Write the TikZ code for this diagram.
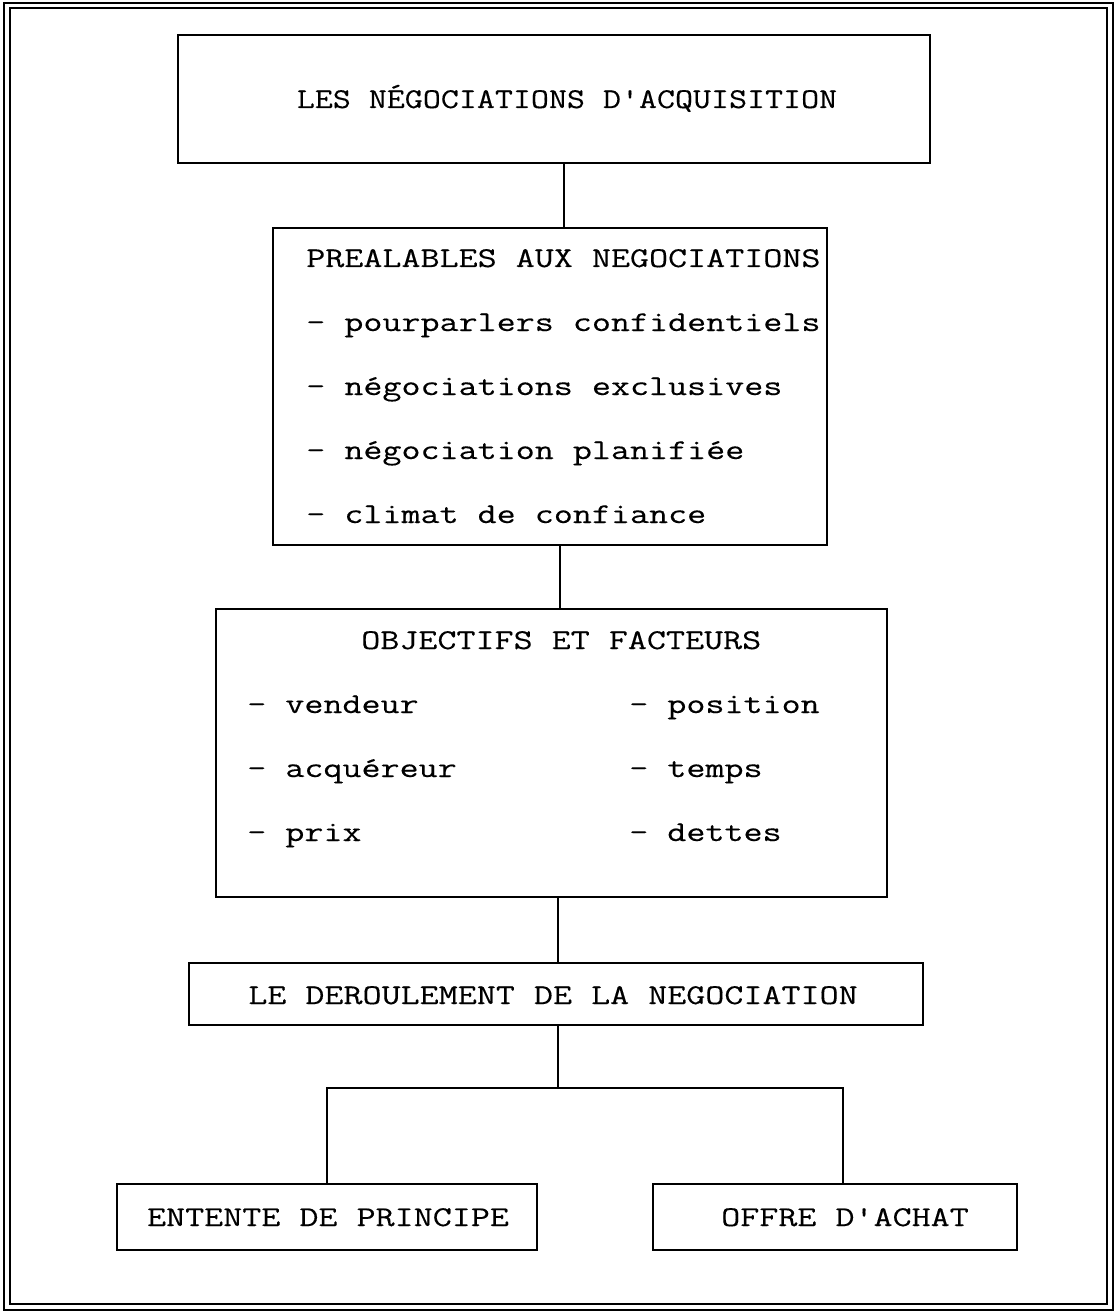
\documentclass[tikz,border=0pt]{standalone}
\usepackage{fontspec}
\newfontfamily\tw[FakeStretch=1.29,FakeBold=0.3]{Latin Modern Mono}
\newfontfamily\twt[FakeStretch=1.22,FakeBold=0.3]{Latin Modern Mono}
\tikzset{
  box/.style={draw, line width=1.5pt, rectangle, inner sep=0pt},
  conn/.style={line width=1.5pt},
  frameline/.style={line width=1.6pt},
  txt/.style={inner sep=0pt, font=\tw\fontsize{21.5}{26}\selectfont},
  titletxt/.style={inner sep=0pt, font=\twt\fontsize{21.5}{26}\selectfont},
}
\begin{document}
\begin{tikzpicture}[x=0.75pt,y=-0.75pt]
\useasboundingbox (0,0) rectangle (1116,1312);
% double frame
\draw[frameline] (4,3) rectangle (1113,1310);
\draw[frameline] (10,8) rectangle (1107,1304);

% boxes
\node[box, minimum width=752*0.75pt, minimum height=128*0.75pt] (b1) at (554,99) {};
\node[box, minimum width=554*0.75pt, minimum height=317*0.75pt] (b2) at (550,386.5) {};
\node[box, minimum width=671*0.75pt, minimum height=288*0.75pt] (b3) at (551.5,753) {};
\node[box, minimum width=734*0.75pt, minimum height=62*0.75pt] (b4) at (556,994) {};
\node[box, minimum width=420*0.75pt, minimum height=66*0.75pt] (b5) at (327,1217) {};
\node[box, minimum width=364*0.75pt, minimum height=66*0.75pt] (b6) at (835,1217) {};

% texts
\node[titletxt, anchor=base] (t1) at (567,108) {LES NÉGOCIATIONS D'ACQUISITION};

\node[txt, anchor=base west] (t2a) at (306,267) {PREALABLES AUX NEGOCIATIONS};
\node[txt, anchor=base west] (t2b) at (306,331) {- pourparlers confidentiels};
\node[txt, anchor=base west] (t2c) at (306,395) {- négociations exclusives};
\node[txt, anchor=base west] (t2d) at (306,459) {- négociation planifiée};
\node[txt, anchor=base west] (t2e) at (306,523) {- climat de confiance};

\node[txt, anchor=base west] (t3) at (361,649) {OBJECTIFS ET FACTEURS};
\node[txt, anchor=base west] (t3a) at (247,713) {- vendeur};
\node[txt, anchor=base west] (t3b) at (247,777) {- acquéreur};
\node[txt, anchor=base west] (t3c) at (247,841) {- prix};
\node[txt, anchor=base west] (t3d) at (629,713) {- position};
\node[txt, anchor=base west] (t3e) at (629,777) {- temps};
\node[txt, anchor=base west] (t3f) at (629,841) {- dettes};

\node[txt, anchor=base] (t4) at (553,1004) {LE DEROULEMENT DE LA NEGOCIATION};
\node[txt, anchor=base] (t5) at (328,1226) {ENTENTE DE PRINCIPE};
\node[txt, anchor=base] (t6) at (845,1226) {OFFRE D'ACHAT};

% connectors
\coordinate (split) at (558,1088);
\draw[conn] (564,0 |- b1.south) -- (564,0 |- b2.north);
\draw[conn] (560,0 |- b2.south) -- (560,0 |- b3.north);
\draw[conn] (558,0 |- b3.south) -- (558,0 |- b4.north);
\draw[conn] (558,0 |- b4.south) -- (split);
\draw[conn] (b5.north) -- (b5.north |- split) -- (843,0 |- split) -- (843,0 |- b6.north);
\end{tikzpicture}
\end{document}
